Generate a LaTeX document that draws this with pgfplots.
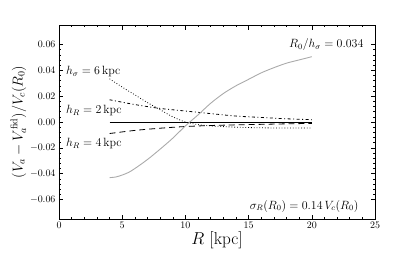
\documentclass[border=0pt]{standalone}
\usepackage{pgfplots}
\pgfplotsset{compat=1.18}
\begin{document}
\begin{tikzpicture}
\begin{axis}[
  scale only axis,
  width=316bp, height=194bp,
  xmin=0, xmax=25, ymin=-0.075, ymax=0.075,
  xtick={0,5,10,15,20,25},
  ytick={-0.06,-0.04,-0.02,0,0.02,0.04,0.06},
  yticklabel style={/pgf/number format/fixed,/pgf/number format/fixed zerofill,/pgf/number format/precision=2},
  scaled y ticks=false,
  minor x tick num=4,
  minor y tick num=4,
  tick align=inside,
  ticklabel style={font=\normalsize},
  major tick length=4.5bp, minor tick length=2.2bp,
  tick style={black, line width=0.5pt},
  axis line style={line width=0.8pt},
  xlabel={\LARGE $R$ [kpc]},
  ylabel={\Large $(V_a-V_a^{\mathrm{fid}})/V_c(R_0)$},
  xlabel style={yshift=4bp},
  ylabel style={yshift=-3bp},
]
\addplot[black, line width=0.7pt] coordinates {(4,0) (20,0)};
\addplot[black, line width=0.8pt, dotted, smooth] coordinates {
(4,0.0334) (5,0.027) (6,0.021) (7,0.015) (8,0.0095) (9,0.004) (10,0.0) (11,-0.002) (12,-0.003) (14,-0.004) (16,-0.0045) (18,-0.0046) (20,-0.0047)};
\addplot[black, line width=0.8pt, dash pattern=on 3pt off 2.5pt on 1pt off 2.5pt, smooth] coordinates {
(4,0.0172) (6,0.0135) (8,0.0105) (10,0.0085) (12,0.0065) (14,0.0046) (16,0.0035) (18,0.0025) (20,0.0018)};
\addplot[black, line width=0.8pt, dash pattern=on 6pt off 4pt, smooth] coordinates {
(4,-0.0089) (6,-0.0065) (8,-0.0048) (10,-0.0035) (12,-0.0027) (14,-0.0022) (16,-0.0018) (18,-0.0014) (20,-0.0011)};
\addplot[color={rgb,255:red,170;green,170;blue,170}, line width=0.9pt, smooth] coordinates {
(4,-0.043) (4.5,-0.0425) (5,-0.041) (5.5,-0.039) (6,-0.036) (7,-0.029) (8,-0.021) (9,-0.0125) (10,-0.003) (11,0.0055) (12,0.0145) (13,0.022) (14,0.028) (15,0.033) (16,0.038) (17,0.042) (18,0.0455) (19,0.048) (20,0.0505)};
\node[anchor=west, font=\large, inner sep=0pt] at (axis cs:0.55,0.039) {$h_\sigma=6\,\mathrm{kpc}$};
\node[anchor=west, font=\large, inner sep=0pt] at (axis cs:0.55,0.009) {$h_R=2\,\mathrm{kpc}$};
\node[anchor=west, font=\large, inner sep=0pt] at (axis cs:0.55,-0.0165) {$h_R=4\,\mathrm{kpc}$};
\node[anchor=east, font=\large, inner sep=0pt] at (axis cs:24.1,0.0598) {$R_0/h_\sigma=0.034$};
\node[anchor=east, font=\large, inner sep=0pt] at (axis cs:23.7,-0.065) {$\sigma_R(R_0)=0.14\,V_c(R_0)$};
\end{axis}
\pgfresetboundingbox
\path[use as bounding box] ([shift={(-59bp,-37bp)}]current axis.south west) rectangle ([shift={(41bp,25bp)}]current axis.north east);
\end{tikzpicture}
\end{document}
